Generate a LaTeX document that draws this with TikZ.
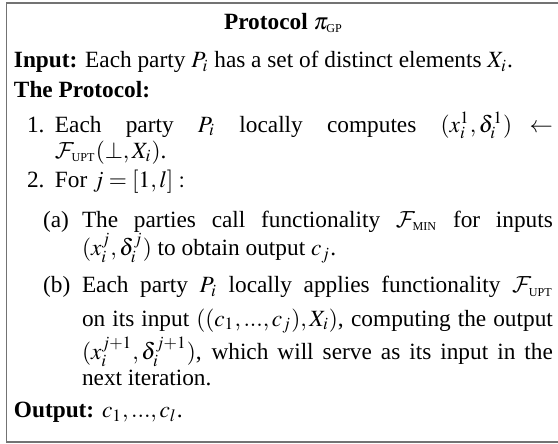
\documentclass[tikz,border=0pt]{standalone}
\usepackage{mathptmx}
\usepackage{fontspec}
\setmainfont{Liberation Serif}
% Computer Modern calligraphic letters for functionalities
\DeclareMathAlphabet{\mathcal}{OMS}{cmsy}{m}{n}
% small capital tags used as subscripts (functionality / protocol names)
\newcommand{\tagsc}[1]{\hbox{\fontsize{5.2pt}{6pt}\selectfont #1}}
\newcommand{\Fupt}{\mathcal{F}_{\tagsc{UPT}}}
\newcommand{\Fmin}{\mathcal{F}_{\tagsc{MIN}}}
\begin{document}
\begin{tikzpicture}[x=1pt,y=1pt,
  txt/.style={anchor=base west, inner sep=0pt, outer sep=0pt},
  frame/.style={draw=black!55, line width=0.8pt}]
  \useasboundingbox (0,0) rectangle (239.5,190.56);
  % outer frame: top, left and bottom sides (right side lies past the page)
  \coordinate (ftr) at (239.5,189.3);
  \coordinate (fbr) at (239.5,0.9);
  \draw[frame] (ftr) -- (2.8,189.3) -- (2.8,0.9) -- (fbr);

  % title
  \node[anchor=base, inner sep=0pt] (title) at (121.7,178.1)
    {\textbf{Protocol} $\pi_{\tagsc{GP}}$};

  % input and heading
  \node[txt] (input) at (6.0,161.4)
    {\textbf{Input:} Each party $P_i$ has a set of distinct elements $X_i$.};
  \node[txt] (proto) at (6.0,148.9) {\textbf{The Protocol:}};

  % step 1
  \node[txt] (l1) at (11.6,133.9) {1.};
  \node[txt] (s1a) at (23.6,133.9)
    {\makebox[213.7pt][s]{Each party $P_i$ locally computes $(x_i^1,\delta_i^1)\leftarrow$}};
  \node[txt] (s1b) at (23.6,122.7) {$\Fupt(\perp,X_i)$.};

  % step 2
  \node[txt] (l2) at (11.6,109.9) {2.};
  \node[txt] (s2) at (23.6,109.9) {For $j=[1,l]:$};

  % step 2(a)
  \node[txt] (la) at (18.5,93.1) {(a)};
  \node[txt] (sa1) at (35.2,93.1)
    {\makebox[202.1pt][s]{The parties call functionality $\Fmin$ for inputs}};
  \node[txt] (sa2) at (35.2,80.7)
    {$(x_i^j,\delta_i^j)$ to obtain output $c_j$.};

  % step 2(b)
  \node[txt] (lb) at (18.5,64.8) {(b)};
  \node[txt] (sb1) at (35.2,64.8)
    {\makebox[202.1pt][s]{Each party $P_i$ locally applies functionality $\Fupt$}};
  \node[txt] (sb2) at (35.2,50.6)
    {\makebox[202.1pt][s]{on its input $((c_1,...,c_j),X_i)$, computing the output}};
  \node[txt] (sb3) at (35.2,36.1)
    {\makebox[202.1pt][s]{$(x_i^{j+1},\delta_i^{j+1})$, which will serve as its input in the}};
  \node[txt] (sb4) at (35.2,24.9) {next iteration.};

  % output
  \node[txt] (output) at (6.0,11.2) {\textbf{Output:} $c_1,...,c_l$.};
\end{tikzpicture}
\end{document}
